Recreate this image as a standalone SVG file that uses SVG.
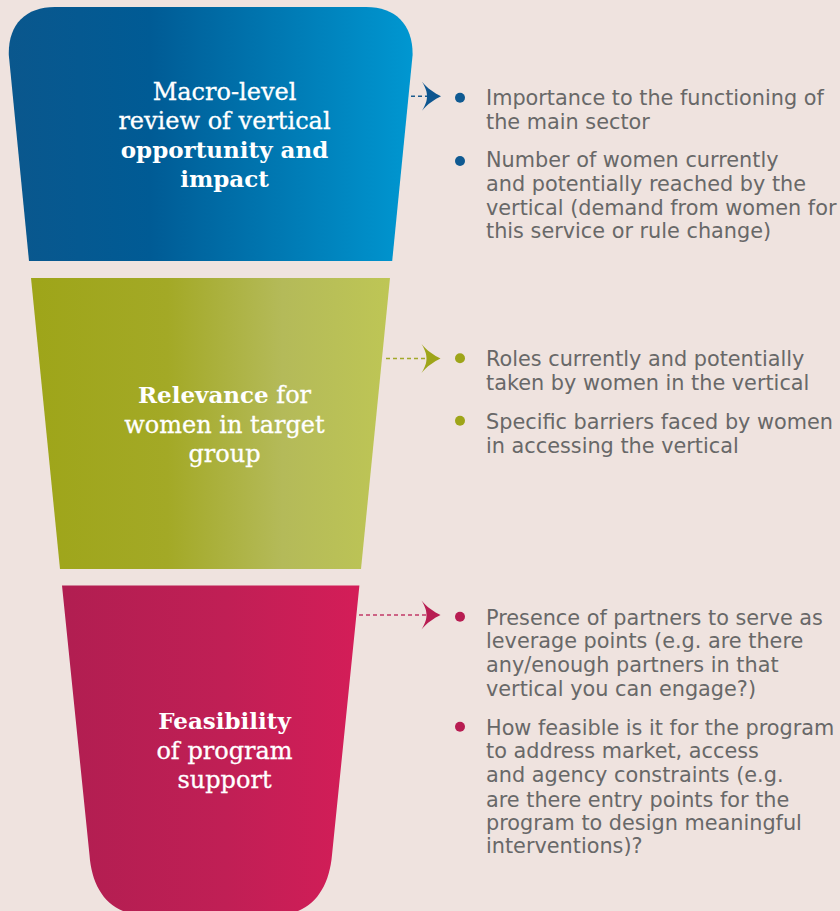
<svg xmlns="http://www.w3.org/2000/svg" xmlns:xlink="http://www.w3.org/1999/xlink" width="840" height="911" viewBox="0 0 840 911">
  <style>
    .title { font-family: "DejaVu Serif", "Liberation Serif", serif; font-size: 24px; fill: #ffffff; stroke: #ffffff; stroke-width: 0.3; text-anchor: middle; }
    .title .b { font-weight: bold; font-size: 23px; stroke-width: 0; }
    .item { font-family: "DejaVu Sans", "Liberation Sans", sans-serif; font-size: 20.8px; fill: #686868; }
    .dash { fill: none; stroke-width: 1.6; stroke-dasharray: 4 3; }
  </style>
  <defs>
    <linearGradient id="gBlue" x1="0" y1="0" x2="1" y2="0">
      <stop offset="0" stop-color="#0a578d"/>
      <stop offset="0.35" stop-color="#005b95"/>
      <stop offset="1" stop-color="#0097d1"/>
    </linearGradient>
    <linearGradient id="gGreen" x1="0" y1="0" x2="1" y2="0">
      <stop offset="0" stop-color="#9ea519"/>
      <stop offset="0.38" stop-color="#a3a926"/>
      <stop offset="0.7" stop-color="#b4ba59"/>
      <stop offset="1" stop-color="#bec655"/>
    </linearGradient>
    <linearGradient id="gRed" x1="0" y1="0" x2="1" y2="0">
      <stop offset="0" stop-color="#b11e51"/>
      <stop offset="0.55" stop-color="#c01f55"/>
      <stop offset="1" stop-color="#d41d58"/>
    </linearGradient>
    <!-- arrowhead with its tip at the origin -->
    <path id="arrowhead" d="M0,0 C-6,-3 -14,-8 -19,-14.5 C-15,-8 -14,-4 -14,0 C-14,4 -15,8 -19,14.5 C-14,8 -6,3 0,0 Z"/>
  </defs>

  <rect width="840" height="911" fill="#efe3df"/>

  <!-- funnel stage 1 -->
  <g id="stage-macro">
    <path d="M29,261 L8.8,55 C8,25 25,7 55,7 L366,7 C396,7 413,25 412.6,55 L392.2,261 Z" fill="url(#gBlue)"/>
    <text class="title" x="224.5" y="100">Macro-level</text>
    <text class="title" x="224.5" y="129">review of vertical</text>
    <text class="title" x="224.5" y="158"><tspan class="b">opportunity and</tspan></text>
    <text class="title" x="224.5" y="187"><tspan class="b">impact</tspan></text>
  </g>

  <!-- funnel stage 2 -->
  <g id="stage-relevance">
    <path d="M31,278 L390,278 L361,569 L60,569 Z" fill="url(#gGreen)"/>
    <text class="title" x="224.5" y="403"><tspan class="b">Relevance</tspan> for</text>
    <text class="title" x="224.5" y="432.5">women in target</text>
    <text class="title" x="224.5" y="462">group</text>
  </g>

  <!-- funnel stage 3 -->
  <g id="stage-feasibility">
    <path d="M62,585.5 L359.4,585.5 L332,855 C329,890 311,915 276,915 L145,915 C110,915 92,890 89.5,855 Z" fill="url(#gRed)"/>
    <text class="title" x="224.5" y="729"><tspan class="b">Feasibility</tspan></text>
    <text class="title" x="224.5" y="758.5">of program</text>
    <text class="title" x="224.5" y="787.5">support</text>
  </g>

  <!-- connectors -->
  <g id="connectors">
    <line class="dash" x1="411" y1="96.3" x2="427" y2="96.3" stroke="#1b5b8d"/>
    <use xlink:href="#arrowhead" href="#arrowhead" transform="translate(441,96.3)" fill="#0d5690"/>
    <line class="dash" x1="386" y1="358.5" x2="427" y2="358.5" stroke="#a2a92a"/>
    <use xlink:href="#arrowhead" href="#arrowhead" transform="translate(440.5,358.5)" fill="#9ea519"/>
    <line class="dash" x1="359" y1="615" x2="427" y2="615" stroke="#c23a68"/>
    <use xlink:href="#arrowhead" href="#arrowhead" transform="translate(440.5,615)" fill="#b81d52"/>
  </g>

  <!-- criteria lists -->
  <g id="list-macro">
    <circle cx="460" cy="97.7" r="5" fill="#0f5a92"/>
    <text class="item" x="486" y="105">Importance to the functioning of</text>
    <text class="item" x="486" y="129">the main sector</text>
    <circle cx="460" cy="161" r="5" fill="#0f5a92"/>
    <text class="item" x="486" y="167.3">Number of women currently</text>
    <text class="item" x="486" y="191">and potentially reached by the</text>
    <text class="item" x="486" y="214.7">vertical (demand from women for</text>
    <text class="item" x="486" y="238.3">this service or rule change)</text>
  </g>

  <g id="list-relevance">
    <circle cx="460" cy="358.3" r="5" fill="#9ea519"/>
    <text class="item" x="486" y="366">Roles currently and potentially</text>
    <text class="item" x="486" y="390">taken by women in the vertical</text>
    <circle cx="460" cy="420.7" r="5" fill="#9ea519"/>
    <text class="item" x="486" y="429.3">Specific barriers faced by women</text>
    <text class="item" x="486" y="452.7">in accessing the vertical</text>
  </g>

  <g id="list-feasibility">
    <circle cx="460" cy="616.7" r="5" fill="#b81d52"/>
    <text class="item" x="486" y="625">Presence of partners to serve as</text>
    <text class="item" x="486" y="648.3">leverage points (e.g. are there</text>
    <text class="item" x="486" y="671.7">any/enough partners in that</text>
    <text class="item" x="486" y="696">vertical you can engage?)</text>
    <circle cx="460" cy="726.7" r="5" fill="#b81d52"/>
    <text class="item" x="486" y="735">How feasible is it for the program</text>
    <text class="item" x="486" y="758.3">to address market, access</text>
    <text class="item" x="486" y="781.7">and agency constraints (e.g.</text>
    <text class="item" x="486" y="806.7">are there entry points for the</text>
    <text class="item" x="486" y="830">program to design meaningful</text>
    <text class="item" x="486" y="853.3">interventions)?</text>
  </g>
</svg>
